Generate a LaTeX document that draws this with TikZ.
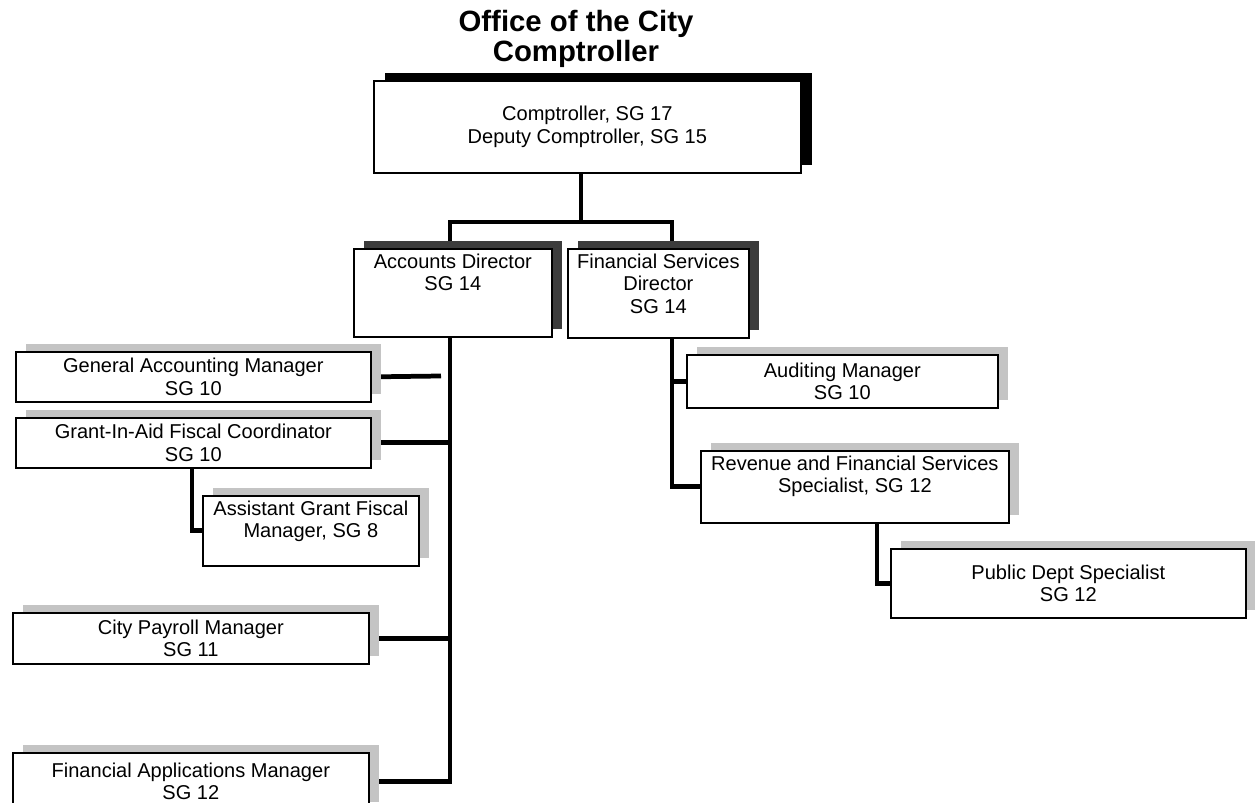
\documentclass[tikz,border=0pt]{standalone}
\usepackage{fontspec}
\setmainfont{Liberation Sans}
\usetikzlibrary{shadows,backgrounds,positioning}
\definecolor{shade}{HTML}{C4C4C4}
\definecolor{shadedark}{HTML}{3C3C3C}
\newcommand{\boxfont}{\fontsize{11.4}{12.8}\selectfont}

\begin{document}
\begin{tikzpicture}[
  x=0.02cm, y=-0.02cm,
  post/.style={draw=black, line width=1pt, fill=white, anchor=north west, align=center, inner sep=2pt, font=\boxfont},
  lightpost/.style={post, general shadow={fill=shade, shadow xshift=0.2cm, shadow yshift=0.16cm}},
  darkpost/.style={post, general shadow={fill=shadedark, shadow xshift=0.2cm, shadow yshift=0.16cm}},
  toptext/.style={anchor=north, align=center, font=\boxfont, inner sep=3pt},
  link/.style={line width=2.7pt},
]
\path[use as bounding box] (0,0) rectangle (1255,803);

\node[font=\fontsize{16.7}{17}\selectfont\bfseries, align=center] (title) at (576,39) {Office of the City\\Comptroller};

\node[post, minimum width=8.54cm, minimum height=1.84cm, general shadow={fill=black, shadow xshift=0.22cm, shadow yshift=0.16cm}] (top) at (373,80) {Comptroller, SG 17\\Deputy Comptroller, SG 15};

% directors
\node[darkpost, minimum width=3.96cm, minimum height=1.76cm, label={[toptext]north:Accounts Director\\SG 14}] (acct) at (353,248) {};
\node[darkpost, minimum width=3.62cm, minimum height=1.78cm, label={[toptext]north:Financial Services\\Director\\SG 14}] (fsd) at (567,248) {};

% accounts side
\node[lightpost, minimum width=7.1cm, minimum height=1cm] (gam) at (15,351) {General Accounting Manager\\SG 10};
\node[lightpost, minimum width=7.1cm, minimum height=1cm] (gia) at (15,417) {Grant-In-Aid Fiscal Coordinator\\SG 10};
\node[lightpost, minimum width=4.32cm, minimum height=1.4cm, label={[toptext]north:Assistant Grant Fiscal\\Manager, SG 8}] (agf) at (202,495) {};
\node[lightpost, minimum width=7.12cm, minimum height=1.02cm] (cpm) at (12,612) {City Payroll Manager\\SG 11};
\node[lightpost, minimum width=7.12cm, minimum height=1.14cm] (fam) at (12,752) {Financial Applications Manager\\SG 12};

% financial services side
\node[lightpost, minimum width=6.22cm, minimum height=1.06cm] (aud) at (686,354) {Auditing Manager\\SG 10};
\node[lightpost, minimum width=6.16cm, minimum height=1.44cm, label={[toptext]north:Revenue and Financial Services\\Specialist, SG 12}] (rev) at (700,450) {};
\node[lightpost, minimum width=7.1cm, minimum height=1.38cm] (pub) at (890,548) {Public Dept Specialist\\SG 12};

\coordinate (hub) at (581,222);
\coordinate (aspine) at (450,222);
\coordinate (fspine) at (672,222);
\coordinate (gspine) at (192,0);
\coordinate (pspine) at (877,0);
\coordinate (gamend) at (441,376);

\begin{scope}[on background layer]
\draw[link] (top.south -| hub) -- (hub);
\draw[link] (acct.north -| aspine) -- (aspine) -- (fspine) -- (fsd.north -| fspine);
\draw[link] (acct.south -| aspine) |- (fam.east);
\draw[link] (gam.east) -- (gamend);
\draw[link] (gia.east) -- (gia.east -| aspine);
\draw[link] (cpm.east) -- (cpm.east -| aspine);
\draw[link] (gia.south -| gspine) |- (agf.west);
\draw[link] (fsd.south -| fspine) |- (rev.west);
\draw[link] (aud.west -| fspine) -- (aud.west);
\draw[link] (rev.south -| pspine) |- (pub.west);
\end{scope}

\end{tikzpicture}
\end{document}
